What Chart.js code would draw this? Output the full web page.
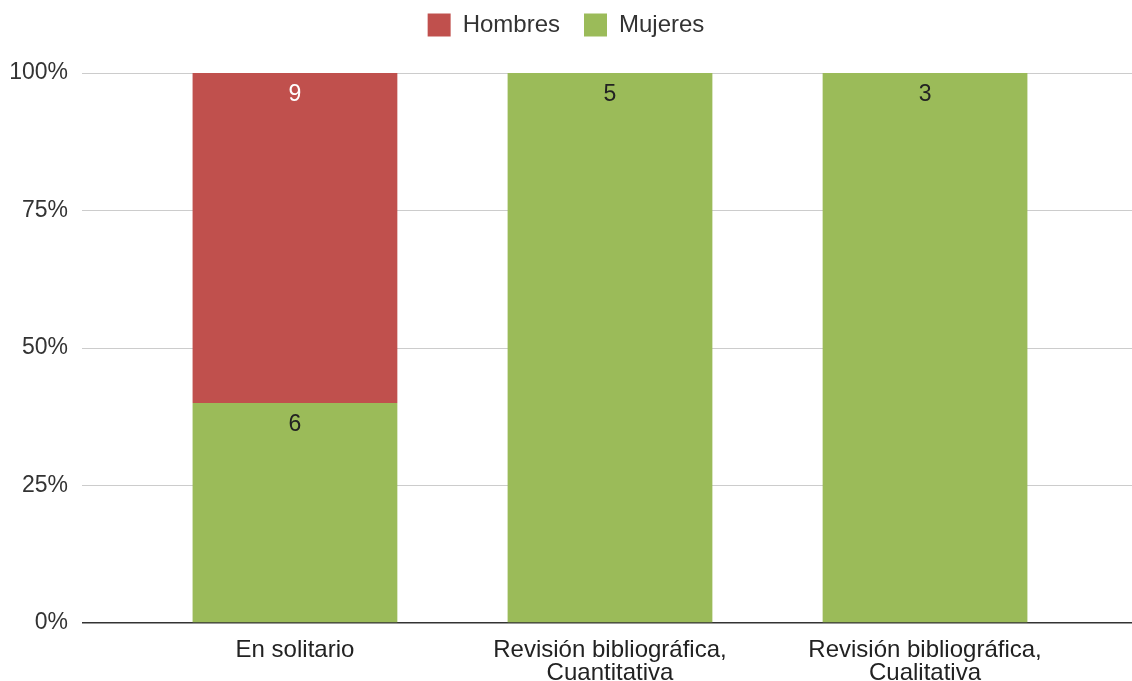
<!DOCTYPE html>
<html>
<head>
<meta charset="utf-8">
<script src="https://cdn.jsdelivr.net/npm/chart.js@4/dist/chart.umd.min.js"></script>
<style>
  html, body { margin: 0; padding: 0; background: #fff; }
  #wrap { width: 1132px; height: 681px; }
</style>
</head>
<body>
<div id="wrap"><canvas id="chart"></canvas></div>
<script>
// Datos del gráfico (conteos por categoría)
const categorias = [
  ['En solitario'],
  ['Revisión bibliográfica,', 'Cuantitativa'],
  ['Revisión bibliográfica,', 'Cualitativa']
];
const hombres = [9, 0, 0];
const mujeres = [6, 5, 3];
const yTicks = [0, 25, 50, 75, 100];

const ROJO = '#c0504d';
const VERDE = '#9bbb59';
const FUENTE = '"Liberation Sans", Arial, sans-serif';

// Porcentaje de cada serie sobre el total de la categoría
const totales = categorias.map((_, i) => hombres[i] + mujeres[i]);
const toPoints = arr => arr.map((v, i) => ({ x: i, y: totales[i] ? v / totales[i] * 100 : 0, n: v }));

// Etiquetas de valor dentro de cada segmento
const valueLabels = {
  id: 'valueLabels',
  afterDatasetsDraw(chart) {
    const ctx = chart.ctx;
    ctx.save();
    ctx.font = '23px ' + FUENTE;
    ctx.textAlign = 'center';
    ctx.textBaseline = 'middle';
    chart.data.datasets.forEach((ds, di) => {
      const meta = chart.getDatasetMeta(di);
      meta.data.forEach((el, i) => {
        const n = ds.data[i].n;
        if (!n) return;
        ctx.fillStyle = ds.labelColor;
        ctx.fillText(String(n), el.x, el.y + 22);
      });
    });
    ctx.restore();
  }
};

// Altura fija para la leyenda (empieza en -11 por el padding negativo), así el área arranca en y=73
const legendHeight = {
  id: 'legendHeight',
  beforeInit(chart) {
    const fit = chart.legend.fit;
    chart.legend.fit = function () {
      fit.bind(chart.legend)();
      this.height = 84;
    };
  }
};

new Chart(document.getElementById('chart'), {
  type: 'bar',
  data: {
    datasets: [
      { label: 'Mujeres', data: toPoints(mujeres), backgroundColor: VERDE, labelColor: '#222' },
      { label: 'Hombres', data: toPoints(hombres), backgroundColor: ROJO, labelColor: '#fff' }
    ]
  },
  options: {
    responsive: true,
    maintainAspectRatio: false,
    animation: false,
    layout: { padding: { top: -11, left: 0, right: 0, bottom: 0 } },
    datasets: { bar: { barPercentage: 0.65, categoryPercentage: 1 } },
    plugins: {
      tooltip: { enabled: false },
      legend: {
        position: 'top',
        reverse: true,
        labels: {
          boxWidth: 23,
          boxHeight: 23,
          padding: 24,
          color: '#333',
          font: { family: FUENTE, size: 24 }
        }
      }
    },
    scales: {
      x: {
        type: 'linear',
        stacked: true,
        offset: false,
        min: -0.676,
        max: 2.657,
        afterBuildTicks: s => { s.ticks = categorias.map((_, i) => ({ value: i })); },
        afterFit: s => { s.height = 58; },
        grid: { display: false },
        border: { display: false },
        ticks: {
          padding: 8,
          color: '#222',
          maxRotation: 0,
          font: { family: FUENTE, size: 24, lineHeight: 0.95 },
          callback: v => categorias[v] || ''
        }
      },
      y: {
        stacked: true,
        min: 0,
        max: 100,
        afterBuildTicks: s => { s.ticks = yTicks.map(v => ({ value: v })); },
        afterFit: s => { s.width = 82; },
        grid: {
          drawTicks: false,
          color: c => c.tick && c.tick.value === 0 ? '#333' : '#ccc',
          lineWidth: c => c.tick && c.tick.value === 0 ? 1.5 : 1
        },
        border: { display: false },
        ticks: {
          padding: 14,
          color: '#333',
          font: { family: FUENTE, size: 23 },
          callback: v => v + '%'
        }
      }
    }
  },
  plugins: [valueLabels, legendHeight]
});
</script>
</body>
</html>
